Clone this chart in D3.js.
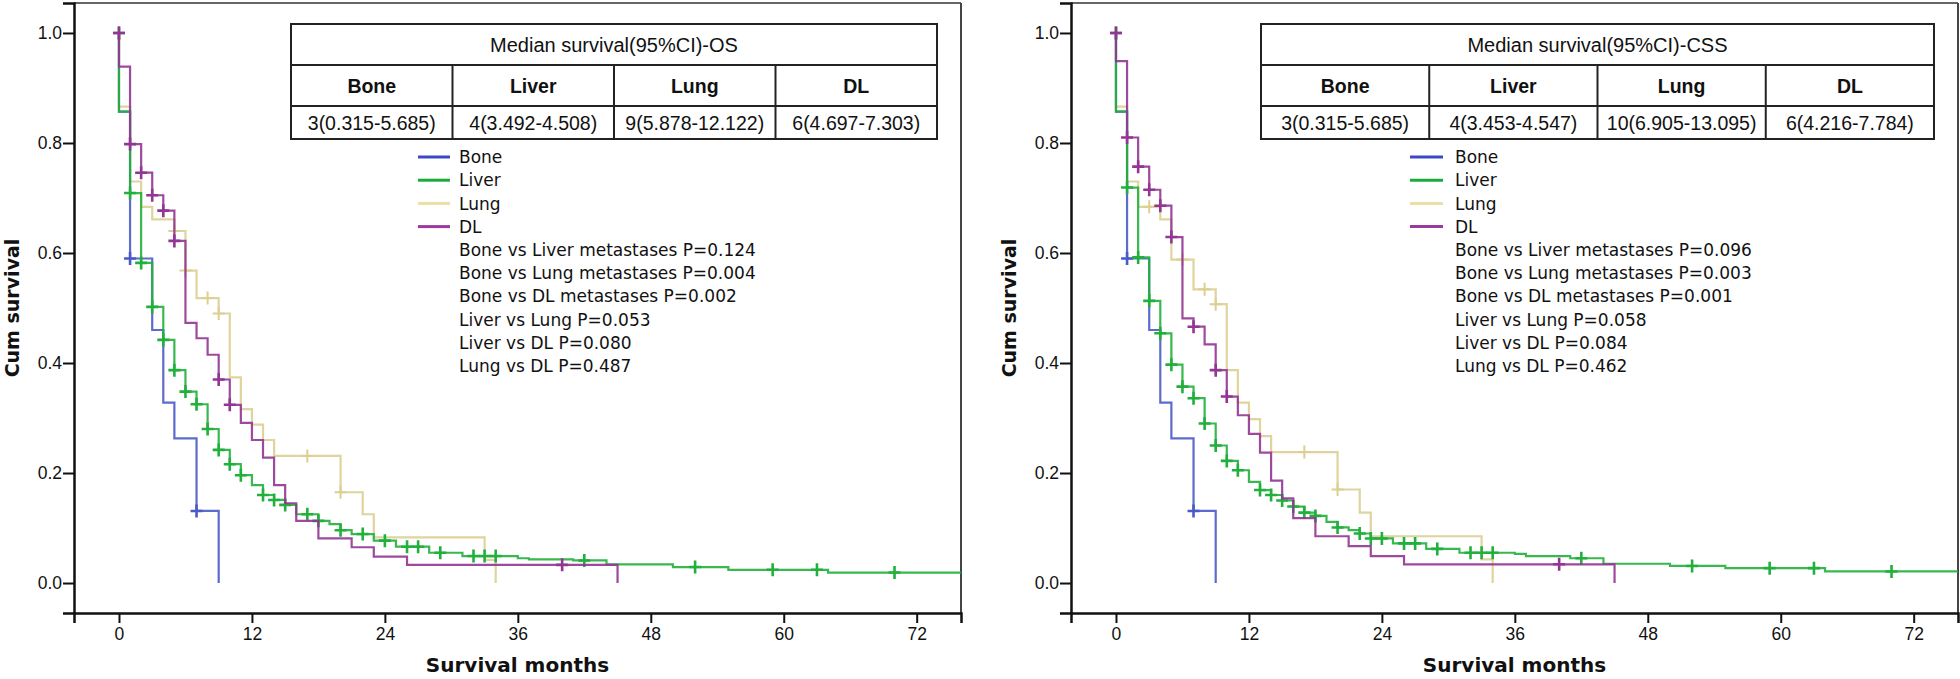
<!DOCTYPE html>
<html><head><meta charset="utf-8">
<script src="https://cdn.jsdelivr.net/npm/d3@7"></script>
<style>body{margin:0;background:#fff}svg{display:block}</style>
</head><body>
<svg id="chart" width="1960" height="679"></svg>
<script>
// ---------------- DATA ----------------
const groups = ["Bone", "Liver", "Lung", "DL"];
const xTicks = [0, 12, 24, 36, 48, 60, 72];
const yTicks = [0.0, 0.2, 0.4, 0.6, 0.8, 1.0];

// OS panel
const osTitle = "Median survival(95%CI)-OS";
const osMedians = ["3(0.315-5.685)", "4(3.492-4.508)", "9(5.878-12.122)", "6(4.697-7.303)"];
const osPValues = ["Bone vs Liver metastases P=0.124", "Bone vs Lung metastases P=0.004", "Bone vs DL metastases P=0.002",
  "Liver vs Lung P=0.053", "Liver vs DL P=0.080", "Lung vs DL P=0.487"];

const osBoneTimes = [0, 1, 3, 4, 5, 7, 9];
const osBoneSurv = [0.857, 0.590, 0.460, 0.328, 0.263, 0.131, 0.0];
const osBoneCensor = [1, 7];
const osBoneEnd = 9;

const osLiverTimes = [0, 1, 2, 3, 4, 5, 6, 7, 8, 9, 10, 11, 12, 13, 14, 15, 16, 18, 19, 20, 21, 23, 25, 28, 31, 36, 37, 41, 44, 50, 55, 64];
const osLiverSurv = [0.857, 0.709, 0.582, 0.502, 0.442, 0.387, 0.348, 0.325, 0.280, 0.242, 0.216, 0.196, 0.178, 0.160, 0.151, 0.142, 0.125, 0.113, 0.107, 0.096, 0.089, 0.077, 0.066, 0.055, 0.049, 0.045, 0.043, 0.041, 0.034, 0.029, 0.024, 0.019];
const osLiverCensor = [0, 1, 2, 3, 4, 5, 6, 7, 8, 9, 10, 11, 13, 14, 15, 17, 18, 20, 22, 24, 26, 27, 29, 32, 33, 34, 42, 52, 59, 63, 70];
const osLiverEnd = 80;

const osLungTimes = [0, 1, 2, 3, 5, 6, 7, 9, 10, 11, 12, 13, 14, 20, 22, 23, 33, 34];
const osLungSurv = [0.866, 0.730, 0.684, 0.661, 0.640, 0.568, 0.518, 0.490, 0.374, 0.316, 0.288, 0.260, 0.231, 0.165, 0.125, 0.083, 0.042, 0.0];
const osLungCensor = [5, 6, 8, 9, 17, 20];
const osLungEnd = 34;

const osDLTimes = [0, 1, 2, 3, 4, 5, 6, 7, 8, 9, 10, 11, 12, 13, 14, 15, 16, 18, 21, 23, 26, 45];
const osDLSurv = [0.939, 0.798, 0.746, 0.705, 0.677, 0.622, 0.473, 0.445, 0.415, 0.370, 0.324, 0.291, 0.260, 0.228, 0.178, 0.145, 0.113, 0.081, 0.065, 0.048, 0.033, 0.0];
const osDLCensor = [0, 1, 2, 3, 4, 5, 9, 10, 40];
const osDLEnd = 45;

// CSS panel
const cssTitle = "Median survival(95%CI)-CSS";
const cssMedians = ["3(0.315-5.685)", "4(3.453-4.547)", "10(6.905-13.095)", "6(4.216-7.784)"];
const cssPValues = ["Bone vs Liver metastases P=0.096", "Bone vs Lung metastases P=0.003", "Bone vs DL metastases P=0.001",
  "Liver vs Lung P=0.058", "Liver vs DL P=0.084", "Lung vs DL P=0.462"];

const cssBoneTimes = [0, 1, 3, 4, 5, 7, 9];
const cssBoneSurv = [0.857, 0.590, 0.460, 0.328, 0.263, 0.131, 0.0];
const cssBoneCensor = [1, 7];
const cssBoneEnd = 9;

const cssLiverTimes = [0, 1, 2, 3, 4, 5, 6, 7, 8, 9, 10, 11, 12, 13, 14, 15, 16, 17, 18, 19, 20, 21, 22, 23, 25, 28, 31, 36, 37, 41, 44, 50, 55, 64];
const cssLiverSurv = [0.857, 0.719, 0.592, 0.513, 0.454, 0.397, 0.357, 0.336, 0.290, 0.250, 0.222, 0.205, 0.184, 0.169, 0.160, 0.150, 0.139, 0.128, 0.122, 0.111, 0.101, 0.096, 0.090, 0.081, 0.072, 0.062, 0.055, 0.053, 0.049, 0.045, 0.035, 0.031, 0.027, 0.021];
const cssLiverCensor = [0, 1, 2, 3, 4, 5, 6, 7, 8, 9, 10, 11, 13, 14, 15, 16, 17, 18, 20, 22, 23, 24, 26, 27, 29, 32, 33, 34, 42, 52, 59, 63, 70];
const cssLiverEnd = 80;

const cssLungTimes = [0, 1, 2, 4, 5, 7, 9, 10, 11, 12, 13, 14, 20, 22, 23, 33, 34];
const cssLungSurv = [0.866, 0.730, 0.684, 0.661, 0.588, 0.534, 0.507, 0.387, 0.328, 0.298, 0.267, 0.238, 0.170, 0.128, 0.085, 0.043, 0.0];
const cssLungCensor = [3, 6, 8, 9, 17, 20];
const cssLungEnd = 34;

const cssDLTimes = [0, 1, 2, 3, 4, 5, 6, 7, 8, 9, 10, 11, 12, 13, 14, 15, 16, 18, 21, 23, 26, 45];
const cssDLSurv = [0.949, 0.810, 0.757, 0.715, 0.686, 0.629, 0.481, 0.466, 0.434, 0.387, 0.339, 0.305, 0.271, 0.237, 0.186, 0.154, 0.118, 0.085, 0.067, 0.049, 0.034, 0.0];
const cssDLCensor = [0, 1, 2, 3, 4, 5, 7, 9, 10, 40];
const cssDLEnd = 45;

// ---------------- STYLE ----------------
const lineColor = {Bone: "#4a5bc8", Liver: "#22b03c", Lung: "#dccf92", DL: "#923593"};
const legendColor = {Bone: "#3b48c9", Liver: "#1aab3a", Lung: "#eadfa5", DL: "#9a3a9e"};
const drawOrder = ["Lung", "Bone", "Liver", "DL"];

const svg = d3.select("#chart");

const x = d3.scaleLinear().domain([-4.06, 76]).range([74, 961]);
const y = d3.scaleLinear().domain([-0.0545, 1.0545]).range([613, 3]);

function panel(offsetX, cfg) {
  const g = svg.append("g").attr("transform", `translate(${offsetX},0)`);
  const clipId = "clip" + offsetX;
  g.append("clipPath").attr("id", clipId).append("rect")
    .attr("x", x.range()[0]).attr("y", y.range()[1]).attr("width", x.range()[1] - x.range()[0]).attr("height", y.range()[0] - y.range()[1]);

  // frame
  g.append("line").attr("x1", x.range()[0]).attr("x2", x.range()[1]).attr("y1", y.range()[1]).attr("y2", y.range()[1]).attr("stroke", "#666").attr("stroke-width", 2);
  g.append("line").attr("x1", x.range()[1]).attr("x2", x.range()[1]).attr("y1", y.range()[1]).attr("y2", y.range()[0]).attr("stroke", "#444").attr("stroke-width", 2);

  // axes
  const ya = g.append("g").attr("transform", `translate(${x.range()[0]},0)`)
    .call(d3.axisLeft(y).tickValues(yTicks).tickFormat(d3.format(".1f")).tickSize(11).tickPadding(1));
  const xa = g.append("g").attr("transform", `translate(0,${y.range()[0]})`)
    .call(d3.axisBottom(x).tickValues(xTicks).tickSize(10).tickPadding(5));
  [ya, xa].forEach(a => {
    a.select(".domain").attr("stroke", "#111").attr("stroke-width", 2.5);
    a.selectAll(".tick line").attr("stroke", "#111").attr("stroke-width", 2);
    a.selectAll(".tick text").attr("font-family", "'Liberation Sans', Arial, sans-serif").attr("font-size", 17.5).attr("fill", "#111");
  });

  // axis titles
  g.append("text").attr("transform", `translate(12,${(y.range()[0] + y.range()[1]) / 2}) rotate(-90)`)
    .attr("text-anchor", "middle").attr("dy", "0.35em")
    .attr("font-family", "'DejaVu Sans', sans-serif").attr("font-weight", "bold").attr("font-size", 19).attr("fill", "#111")
    .text("Cum survival");
  g.append("text").attr("x", (x.range()[0] + x.range()[1]) / 2).attr("y", 672)
    .attr("text-anchor", "middle")
    .attr("font-family", "'DejaVu Sans', sans-serif").attr("font-weight", "bold").attr("font-size", 20).attr("fill", "#111")
    .text("Survival months");

  // curves
  const line = d3.line().x(d => x(d[0])).y(d => y(d[1])).curve(d3.curveStepAfter);
  const plot = g.append("g").attr("clip-path", `url(#${clipId})`);
  drawOrder.forEach(name => {
    const s = cfg.series[name];
    const pts = [[0, 1]];
    s.times.forEach((t, i) => pts.push([t, s.surv[i]]));
    const last = s.surv[s.surv.length - 1];
    if (s.end > s.times[s.times.length - 1]) pts.push([s.end, last]);
    plot.append("path").attr("d", line(pts)).attr("fill", "none")
      .attr("stroke", lineColor[name]).attr("stroke-width", 2.2).attr("stroke-opacity", 0.9);
    const S = t => {
      if (t === 0) return 1;
      let v = 1;
      s.times.forEach((tt, i) => { if (tt <= t) v = s.surv[i]; });
      return v;
    };
    plot.selectAll(null).data(s.censor).enter().append("path")
      .attr("transform", t => `translate(${x(t)},${y(S(t))})`)
      .attr("d", "M-6,0H6M0,-6.5V6.5")
      .attr("stroke", lineColor[name]).attr("stroke-width", name === "Lung" ? 2 : 2.6).attr("fill", "none");
  });

  // table
  const t = cfg.table;
  const rows = [24, 65, 106, 139];
  const tg = g.append("g");
  const cw = (t.x1 - t.x0) / 4;
  tg.append("rect").attr("x", t.x0).attr("y", rows[0]).attr("width", t.x1 - t.x0).attr("height", rows[3] - rows[0])
    .attr("fill", "#fff").attr("stroke", "#222").attr("stroke-width", 2);
  [rows[1], rows[2]].forEach(r => tg.append("line").attr("x1", t.x0).attr("x2", t.x1).attr("y1", r).attr("y2", r).attr("stroke", "#222").attr("stroke-width", 2));
  [1, 2, 3].forEach(i => tg.append("line").attr("x1", t.x0 + i * cw).attr("x2", t.x0 + i * cw).attr("y1", rows[1]).attr("y2", rows[3]).attr("stroke", "#222").attr("stroke-width", 2));
  const tf = "'Liberation Sans', Arial, sans-serif";
  tg.append("text").attr("x", (t.x0 + t.x1) / 2).attr("y", (rows[0] + rows[1]) / 2).attr("dy", "0.36em")
    .attr("text-anchor", "middle").attr("font-family", tf).attr("font-size", 20).attr("fill", "#111").text(cfg.title);
  groups.forEach((gname, i) => {
    tg.append("text").attr("x", t.x0 + (i + 0.5) * cw).attr("y", (rows[1] + rows[2]) / 2).attr("dy", "0.36em")
      .attr("text-anchor", "middle").attr("font-family", tf).attr("font-weight", "bold").attr("font-size", 19.5).attr("fill", "#111").text(gname);
    tg.append("text").attr("x", t.x0 + (i + 0.5) * cw).attr("y", (rows[2] + rows[3]) / 2).attr("dy", "0.36em")
      .attr("text-anchor", "middle").attr("font-family", tf).attr("font-size", 19.5).attr("fill", "#111").text(cfg.medians[i]);
  });

  // legend
  const L = cfg.legend;
  const lf = "'DejaVu Sans', sans-serif";
  const step = 23.2;
  groups.forEach((gname, i) => {
    const yy = L.y0 + i * step;
    g.append("line").attr("x1", L.lx0).attr("x2", L.lx1).attr("y1", yy).attr("y2", yy)
      .attr("stroke", legendColor[gname]).attr("stroke-width", 3);
    g.append("text").attr("x", L.tx).attr("y", yy).attr("dy", "0.36em").attr("font-family", lf).attr("font-size", 17)
      .attr("fill", "#111").text(gname);
  });
  cfg.pvalues.forEach((p, j) => {
    const yy = L.y0 + (groups.length + j) * step;
    g.append("text").attr("x", L.tx).attr("y", yy).attr("dy", "0.36em").attr("font-family", lf).attr("font-size", 17)
      .attr("fill", "#111").text(p);
  });
}

panel(0, {
  title: osTitle, medians: osMedians, pvalues: osPValues,
  table: {x0: 291, x1: 937},
  legend: {lx0: 418, lx1: 450, tx: 459, y0: 157},
  series: {
    Bone: {times: osBoneTimes, surv: osBoneSurv, censor: osBoneCensor, end: osBoneEnd},
    Liver: {times: osLiverTimes, surv: osLiverSurv, censor: osLiverCensor, end: osLiverEnd},
    Lung: {times: osLungTimes, surv: osLungSurv, censor: osLungCensor, end: osLungEnd},
    DL: {times: osDLTimes, surv: osDLSurv, censor: osDLCensor, end: osDLEnd}
  }
});
panel(997, {
  title: cssTitle, medians: cssMedians, pvalues: cssPValues,
  table: {x0: 264, x1: 937},
  legend: {lx0: 413, lx1: 446, tx: 458, y0: 157},
  series: {
    Bone: {times: cssBoneTimes, surv: cssBoneSurv, censor: cssBoneCensor, end: cssBoneEnd},
    Liver: {times: cssLiverTimes, surv: cssLiverSurv, censor: cssLiverCensor, end: cssLiverEnd},
    Lung: {times: cssLungTimes, surv: cssLungSurv, censor: cssLungCensor, end: cssLungEnd},
    DL: {times: cssDLTimes, surv: cssDLSurv, censor: cssDLCensor, end: cssDLEnd}
  }
});
</script>
</body></html>
